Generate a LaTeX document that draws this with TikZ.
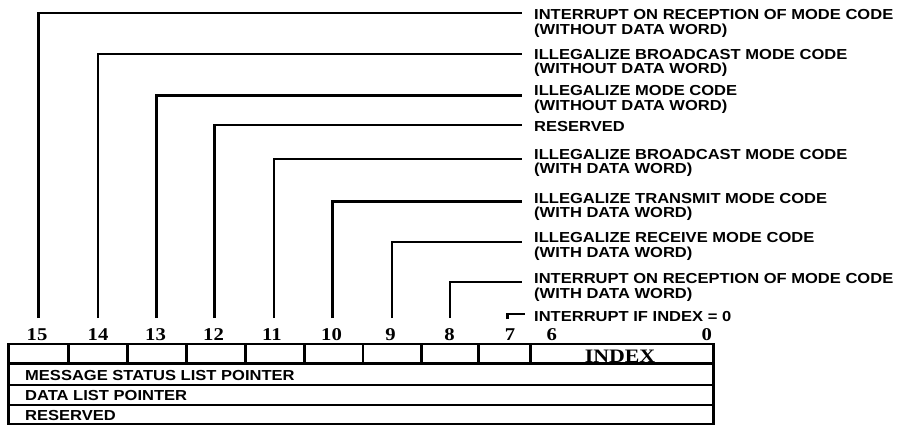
\documentclass[tikz,border=0pt]{standalone}
\usepackage{fontspec}
\newfontfamily\labfam{Liberation Sans}[FakeStretch=1.14]
\newfontfamily\numfam{Liberation Serif}[FakeStretch=1.15]
\newcommand\twoline[2]{\vtop{\hbox{#1}\hbox{#2}}}
\tikzset{
  lab/.style={anchor=base west, inner sep=0pt, font=\fontsize{14.5}{14.3}\labfam\bfseries},
  num/.style={anchor=base, inner sep=0pt, font=\fontsize{18}{18}\numfam\bfseries},
  conn/.style={line width=2.4pt},
  tbl/.style={line width=2.5pt},
}
\begin{document}
\begin{tikzpicture}[x=1pt,y=-1pt]
\useasboundingbox (0,0) rectangle (899,425);

% labels
\node[lab] (l1) at (534,19.9) {\twoline{INTERRUPT ON RECEPTION OF MODE CODE}{(WITHOUT DATA WORD)}};
\node[lab] (l2) at (534,59.2) {\twoline{ILLEGALIZE BROADCAST MODE CODE}{(WITHOUT DATA WORD)}};
\node[lab] (l3) at (534,96.0) {\twoline{ILLEGALIZE MODE CODE}{(WITHOUT DATA WORD)}};
\node[lab] (l4) at (534,131.5) {RESERVED};
\node[lab] (l5) at (534,159.2) {\twoline{ILLEGALIZE BROADCAST MODE CODE}{(WITH DATA WORD)}};
\node[lab] (l6) at (534,203.5) {\twoline{ILLEGALIZE TRANSMIT MODE CODE}{(WITH DATA WORD)}};
\node[lab] (l7) at (534,242.7) {\twoline{ILLEGALIZE RECEIVE MODE CODE}{(WITH DATA WORD)}};
\node[lab] (l8) at (534,283.9) {\twoline{INTERRUPT ON RECEPTION OF MODE CODE}{(WITH DATA WORD)}};
\node[lab] (l9) at (534,321) {INTERRUPT IF INDEX = 0};

% connector ends
\coordinate (s15) at (38.3,318);  \coordinate (e15) at (521.7,13.3);
\coordinate (s14) at (97.7,318);  \coordinate (e14) at (521.7,53.8);
\coordinate (s13) at (156.3,318); \coordinate (e13) at (521.7,95.7);
\coordinate (s12) at (214.3,318); \coordinate (e12) at (521.7,125);
\coordinate (s11) at (273.7,318); \coordinate (e11) at (521.7,158.8);
\coordinate (s10) at (332.3,318); \coordinate (e10) at (521.7,201.5);
\coordinate (s9)  at (391.7,318); \coordinate (e9)  at (521.7,242);
\coordinate (s8)  at (450,318);   \coordinate (e8)  at (521.7,281.7);
\coordinate (s7)  at (507.5,319); \coordinate (e7)  at (524.5,314);

\foreach \b in {15,14,13,12,11,10,9,8,7}
  \draw[conn] (s\b) |- (e\b);

% bit numbers
\node[num] (n15) at (37,340.6) {15};
\node[num] (n14) at (98,340.6) {14};
\node[num] (n13) at (155.5,340.6) {13};
\node[num] (n12) at (213.5,340.6) {12};
\node[num] (n11) at (272,340.6) {11};
\node[num] (n10) at (331.5,340.6) {10};
\node[num] (n9)  at (390.5,340.6) {9};
\node[num] (n8)  at (449.5,340.6) {8};
\node[num] (n7)  at (510,340.6) {7};
\node[num] (n6)  at (551.7,340.6) {6};
\node[num] (n0)  at (706.7,340.6) {0};

% table
\draw[tbl] (8.3,344) rectangle (713.3,423.8);
\draw[tbl] (8.3,363.3) -- (713.3,363.3);
\draw[tbl] (8.3,385) -- (713.3,385);
\draw[tbl] (8.3,405) -- (713.3,405);
\foreach \x in {68.3,127.7,186.3,245.7,304.3,363,421.7,478.3,530.7}
  \draw[tbl] (\x,344) -- (\x,363.3);

\node[anchor=base, inner sep=0pt, font=\fontsize{19}{19}\numfam\bfseries] (idx) at (620,362.5) {INDEX};
\node[lab] (r1) at (25,380.2) {MESSAGE STATUS LIST POINTER};
\node[lab] (r2) at (25,400.2) {DATA LIST POINTER};
\node[lab] (r3) at (25,420.2) {RESERVED};
\end{tikzpicture}
\end{document}
